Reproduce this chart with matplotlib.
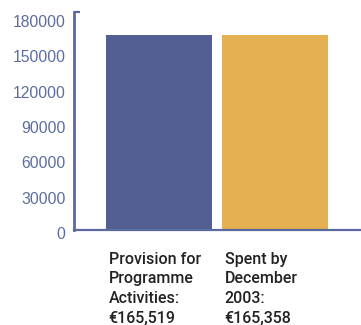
import matplotlib
matplotlib.use("Agg")
import matplotlib.pyplot as plt
from matplotlib.transforms import blended_transform_factory, ScaledTranslation

categories = ["Provision for\nProgramme\nActivities:", "Spent by\nDecember\n2003:"]
values = [165519, 165358]
value_labels = ["€165,519", "€165,358"]
yticks = [0, 30000, 60000, 90000, 120000, 150000, 180000]

bar_colors = ["#535f92", "#e4b052"]
axis_color = "#5b6a9e"

fig = plt.figure(figsize=(3.61, 3.25), dpi=100)
ax = fig.add_axes([74 / 361, 95 / 325, 287 / 361, 218 / 325])

positions = list(range(len(values)))
width = 0.91
ax.bar(positions, values, width=width, color=bar_colors, zorder=2)

ax.set_xlim(-0.733, 1.741)
ax.set_ylim(0, 185000)

for side in ("top", "right"):
    ax.spines[side].set_visible(False)
ax.spines["left"].set_color(axis_color)
ax.spines["left"].set_linewidth(2)
ax.spines["bottom"].set_color(axis_color)
ax.spines["bottom"].set_linewidth(1.6)

ax.set_xticks([])
ax.set_yticks(yticks)
ax.set_yticklabels([str(v) for v in yticks], fontsize=11.3, color="#5d6c9e",
                   family="Liberation Sans")
ax.tick_params(axis="y", length=0, pad=6)
shift = ScaledTranslation(0, -3 / 100, fig.dpi_scale_trans)
for lbl in ax.get_yticklabels():
    lbl.set_transform(lbl.get_transform() + shift)

# small cap at the top of the value axis
ax.plot([0, 0.022], [1, 1], transform=ax.transAxes, color=axis_color,
        lw=1.6, clip_on=False, solid_capstyle="butt")

trans = blended_transform_factory(ax.transData, ax.transAxes)
for pos, cat, lab in zip(positions, categories, value_labels):
    ax.text(pos - width / 2 + 0.02, -0.1, cat + "\n" + lab, transform=trans,
            ha="left", va="top", fontsize=11.5, fontweight="medium",
            family="Roboto", color="#222222", linespacing=1.38)

fig.savefig("out.png", dpi=100)
